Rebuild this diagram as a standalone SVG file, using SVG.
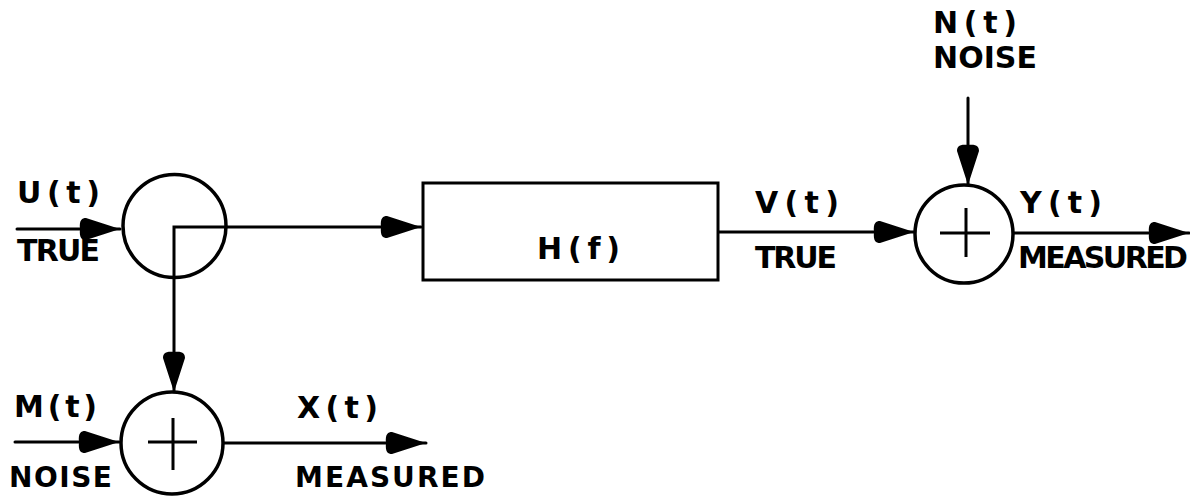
<svg xmlns="http://www.w3.org/2000/svg" width="1190" height="497" viewBox="0 0 1190 497">
<style>
.ln{stroke:#000;stroke-width:3;fill:none;stroke-linecap:round}
.nd{stroke:#000;stroke-width:3.5;fill:#fff}
.pl{stroke:#000;stroke-width:3;fill:none}
.tx{font-family:"DejaVu Sans","Liberation Sans",sans-serif;font-weight:bold;font-size:30px;fill:#000}
.sm{font-size:28px}
</style>
<defs>
<marker id="ah" markerUnits="userSpaceOnUse" markerWidth="44" markerHeight="26" refX="42" refY="13" orient="auto" viewBox="0 0 44 26">
<path d="M2,13 C1,4 4,2 8,2 L42,13 L8,24 C4,24 1,22 2,13 Z" fill="#000"/>
</marker>
</defs>
<rect width="1190" height="497" fill="#fff"/>
<g id="connectors">
<line class="ln" x1="17" y1="229" x2="120" y2="229" marker-end="url(#ah)"/>
<polyline class="ln" points="226,227 174,227 174,392" marker-end="url(#ah)"/>
<line class="ln" x1="226" y1="227" x2="421" y2="227" marker-end="url(#ah)"/>
<line class="ln" x1="15" y1="442" x2="119" y2="442" marker-end="url(#ah)"/>
<line class="ln" x1="223" y1="443" x2="426" y2="443" marker-end="url(#ah)"/>
<line class="ln" x1="718" y1="232" x2="914" y2="232" marker-end="url(#ah)"/>
<line class="ln" x1="968" y1="98" x2="968" y2="185" marker-end="url(#ah)"/>
<line class="ln" x1="1013" y1="233" x2="1189" y2="233" marker-end="url(#ah)"/>
</g>
<g id="split">
<circle cx="174.5" cy="226" r="51.5" fill="none" stroke="#000" stroke-width="3.5"/>
</g>
<g id="sum_x">
<circle class="nd" cx="172" cy="443" r="51"/>
<path class="pl" d="M148,442 H197 M173,418 V470"/>
</g>
<g id="filter">
<rect x="423" y="183" width="295" height="97" fill="#fff" stroke="#000" stroke-width="3"/>
<text class="tx" x="537" y="259" textLength="83" lengthAdjust="spacing">H(f)</text>
</g>
<g id="sum_y">
<circle class="nd" cx="964" cy="234" r="49"/>
<path class="pl" d="M940,233 H990 M966,208 V257"/>
</g>
<g id="labels">
<text class="tx" x="17" y="203" textLength="83" lengthAdjust="spacing">U(t)</text>
<text class="tx" x="17" y="261" textLength="83" lengthAdjust="spacing">TRUE</text>
<text class="tx" x="14" y="417" textLength="83" lengthAdjust="spacing">M(t)</text>
<text class="tx sm" x="9" y="487" textLength="103" lengthAdjust="spacing">NOISE</text>
<text class="tx" x="297" y="418" textLength="81" lengthAdjust="spacing">X(t)</text>
<text class="tx sm" x="295" y="487" textLength="190" lengthAdjust="spacing">MEASURED</text>
<text class="tx" x="755" y="213" textLength="84" lengthAdjust="spacing">V(t)</text>
<text class="tx" x="755" y="268" textLength="82" lengthAdjust="spacing">TRUE</text>
<text class="tx" x="933" y="33" textLength="84" lengthAdjust="spacing">N(t)</text>
<text class="tx" x="933" y="68" textLength="104" lengthAdjust="spacing">NOISE</text>
<text class="tx" x="1020" y="213" textLength="82" lengthAdjust="spacing">Y(t)</text>
<text class="tx" x="1018" y="268" textLength="170" lengthAdjust="spacing">MEASURED</text>
</g>
</svg>
